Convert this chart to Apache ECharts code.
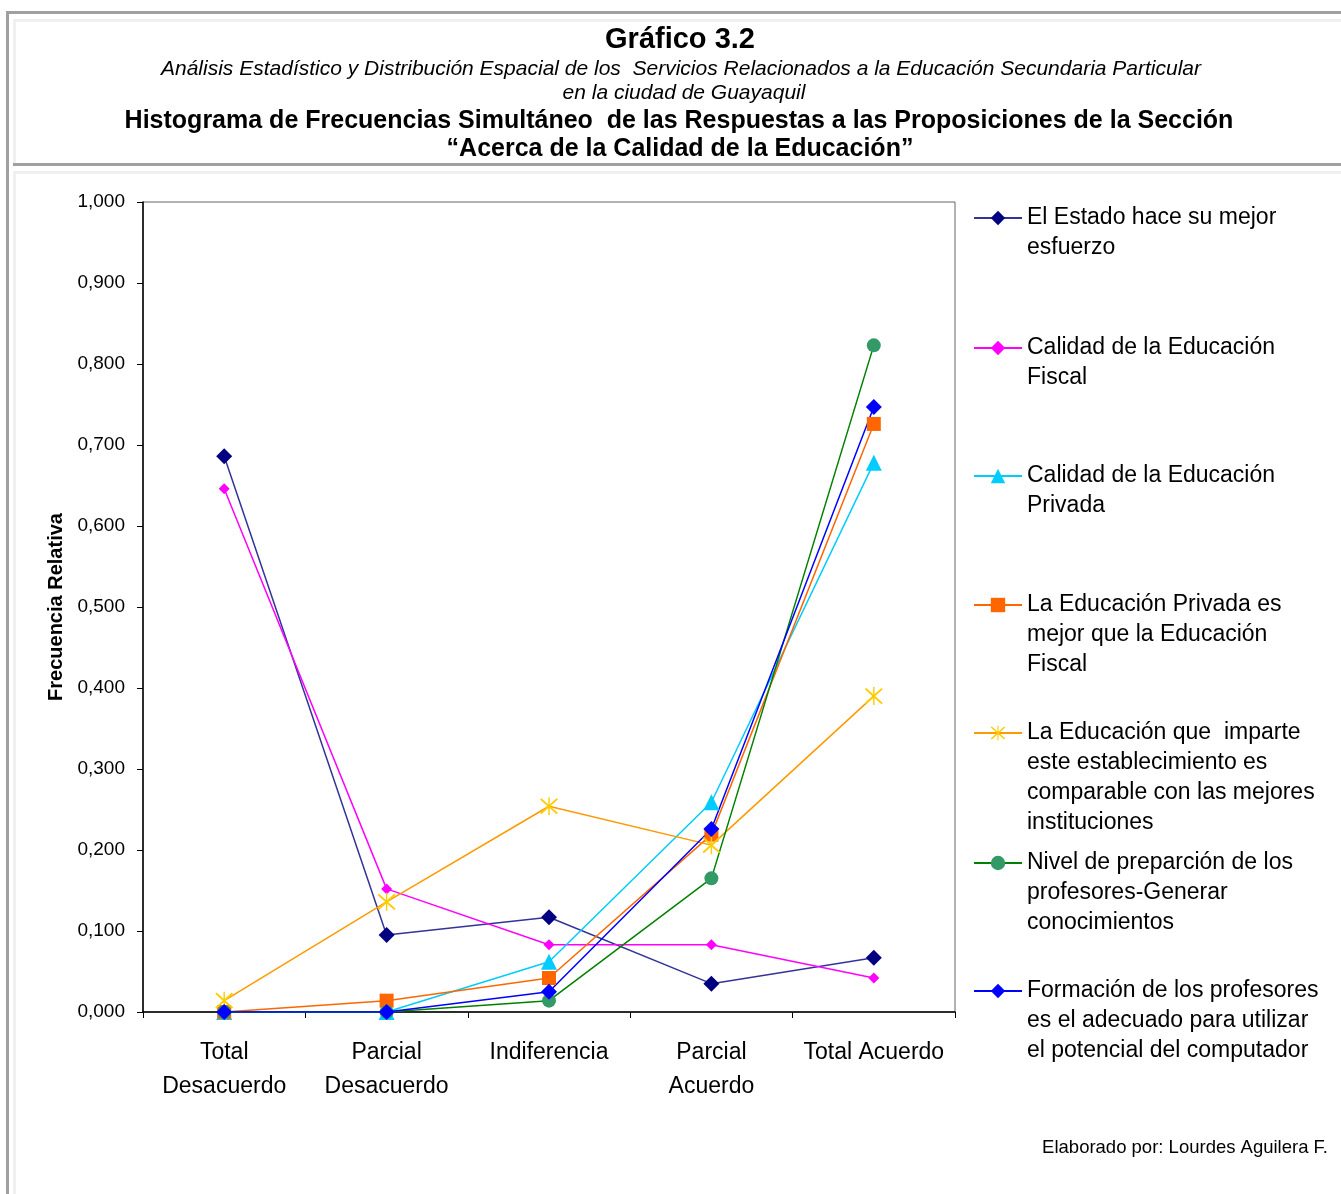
<!DOCTYPE html>
<html>
<head>
<meta charset="utf-8">
<script src="https://cdn.jsdelivr.net/npm/echarts@6/dist/echarts.min.js"></script>
<style>
  html, body { margin: 0; padding: 0; background: #fff; }
  #chart { width: 1341px; height: 1194px; }
</style>
</head>
<body>
<div id="chart"></div>
<script>
// categorias del eje x
var categorias = ['Total\nDesacuerdo', 'Parcial\nDesacuerdo', 'Indiferencia', 'Parcial\nAcuerdo', 'Total Acuerdo'];

// nombres de las series (con saltos de linea como en la leyenda)
var nombres = [
    'El Estado hace su mejor\nesfuerzo',
    'Calidad de la Educación\nFiscal',
    'Calidad de la Educación\nPrivada',
    'La Educación Privada es\nmejor que la Educación\nFiscal',
    'La Educación que  imparte\neste establecimiento es\ncomparable con las mejores\ninstituciones',
    'Nivel de preparción de los\nprofesores-Generar\nconocimientos',
    'Formación de los profesores\nes el adecuado para utilizar\nel potencial del computador'
];

// frecuencias relativas
var estado      = [0.686, 0.095, 0.117, 0.035, 0.067];
var fiscal      = [0.646, 0.152, 0.083, 0.083, 0.042];
var privada     = [0.000, 0.000, 0.062, 0.259, 0.678];
var privMejor   = [0.000, 0.014, 0.042, 0.219, 0.726];
var comparable  = [0.014, 0.136, 0.254, 0.206, 0.390];
var preparacion = [0.000, 0.000, 0.014, 0.165, 0.823];
var formacion   = [0.000, 0.000, 0.025, 0.226, 0.747];

// centro (y) del icono de cada leyenda
var leyendaY = [218, 348, 476, 605, 733, 863, 991];

var fuente = '"Liberation Sans", Arial, sans-serif';
var asterisco = 'path://M9.3,0 L10.7,0 L10.7,20 L9.3,20 Z M1,2.4 L2.4,1 L19,17.6 L17.6,19 Z M17.6,1 L19,2.4 L2.4,19 L1,17.6 Z';

function serie(nombre, datos, colorLinea, colorMarca, simbolo, tam) {
    return {
        name: nombre,
        type: 'line',
        data: datos,
        symbol: simbolo,
        symbolSize: tam,
        lineStyle: { color: colorLinea, width: 1.5 },
        itemStyle: { color: colorMarca },
        emphasis: { disabled: true },
        animation: false
    };
}

var series = [
    serie(nombres[0], estado, '#333399', '#000080', 'diamond', 16),
    serie(nombres[1], fiscal, '#ff00ff', '#ff00ff', 'diamond', 11),
    serie(nombres[2], privada, '#00ccff', '#00ccff', 'triangle', 16),
    serie(nombres[3], privMejor, '#ff6600', '#ff6600', 'rect', 14),
    serie(nombres[4], comparable, '#ff9900', '#ffcc00', asterisco, 18),
    serie(nombres[5], preparacion, '#008000', '#339966', 'circle', 14),
    serie(nombres[6], formacion, '#0000ff', '#0000ff', 'diamond', 16)
];

// una leyenda por serie; se anteponen lineas vacias para que el icono
// quede a la altura de la primera linea del texto
var lh = 30;
var leyendas = [];
nombres.forEach(function (n, i) {
    var lineas = n.split('\n').length;
    leyendas.push({
        data: [n],
        left: 973,
        top: leyendaY[i] - (2 * lineas - 1) * lh / 2,
        orient: 'vertical',
        padding: 0,
        itemWidth: 48,
        itemHeight: 18,
        selectedMode: false,
        formatter: function (name) {
            return new Array(lineas).join('\n') + name;
        },
        textStyle: {
            fontFamily: fuente,
            fontSize: 23,
            lineHeight: lh,
            color: '#000'
        }
    });
});

var echart1 = echarts.init(document.getElementById('chart'));
var option = {
    backgroundColor: '#fff',
    animation: false,
    textStyle: { fontFamily: fuente },
    grid: {
        left: 143,
        top: 202,
        width: 812,
        height: 810,
        show: true,
        borderColor: '#666666',
        borderWidth: 1,
        containLabel: false
    },
    legend: leyendas,
    xAxis: {
        type: 'category',
        data: categorias,
        boundaryGap: true,
        axisLine: { lineStyle: { color: '#000', width: 1.5 } },
        axisTick: { show: true, length: 6, alignWithLabel: false, lineStyle: { color: '#000' } },
        axisLabel: {
            interval: 0,
            margin: 24,
            fontSize: 23,
            lineHeight: 34,
            color: '#000',
            fontFamily: fuente
        },
        splitLine: { show: false }
    },
    yAxis: {
        type: 'value',
        min: 0,
        max: 1,
        interval: 0.1,
        name: 'Frecuencia Relativa',
        nameLocation: 'middle',
        nameRotate: 90,
        nameGap: 71,
        nameTextStyle: { fontSize: 20, fontWeight: 'bold', color: '#000', fontFamily: fuente },
        axisLine: { show: true, lineStyle: { color: '#000', width: 1.5 } },
        axisTick: { show: true, length: 6, lineStyle: { color: '#000' } },
        axisLabel: {
            margin: 18,
            fontSize: 19,
            color: '#000',
            fontFamily: fuente,
            formatter: function (v) { return v.toFixed(3).replace('.', ','); }
        },
        splitLine: { show: false }
    },
    graphic: [
        // marcos
        { type: 'rect', shape: { x: 6, y: 11, width: 1335, height: 3 }, style: { fill: '#a0a0a0' }, silent: true },
        { type: 'rect', shape: { x: 6, y: 11, width: 3, height: 1183 }, style: { fill: '#a0a0a0' }, silent: true },
        { type: 'rect', shape: { x: 13, y: 19, width: 1328, height: 3 }, style: { fill: '#f0f0f0' }, silent: true },
        { type: 'rect', shape: { x: 13, y: 19, width: 3, height: 144 }, style: { fill: '#f0f0f0' }, silent: true },
        { type: 'rect', shape: { x: 13, y: 163, width: 1328, height: 3 }, style: { fill: '#a0a0a0' }, silent: true },
        { type: 'rect', shape: { x: 13, y: 171, width: 1328, height: 3 }, style: { fill: '#f0f0f0' }, silent: true },
        { type: 'rect', shape: { x: 13, y: 171, width: 3, height: 1023 }, style: { fill: '#f0f0f0' }, silent: true },
        // titulos
        { type: 'text', x: 680, y: 40, style: { text: 'Gráfico 3.2', font: 'bold 29px ' + fuente, fill: '#000', textAlign: 'center', textVerticalAlign: 'middle' } },
        { type: 'text', x: 681, y: 69, style: { text: 'Análisis Estadístico y Distribución Espacial de los  Servicios Relacionados a la Educación Secundaria Particular', font: 'italic 21px ' + fuente, fill: '#000', textAlign: 'center', textVerticalAlign: 'middle' } },
        { type: 'text', x: 684, y: 93, style: { text: 'en la ciudad de Guayaquil', font: 'italic 21px ' + fuente, fill: '#000', textAlign: 'center', textVerticalAlign: 'middle' } },
        { type: 'text', x: 679, y: 121, style: { text: 'Histograma de Frecuencias Simultáneo  de las Respuestas a las Proposiciones de la Sección', font: 'bold 25px ' + fuente, fill: '#000', textAlign: 'center', textVerticalAlign: 'middle' } },
        { type: 'text', x: 680, y: 149, style: { text: '“Acerca de la Calidad de la Educación”', font: 'bold 25px ' + fuente, fill: '#000', textAlign: 'center', textVerticalAlign: 'middle' } },
        { type: 'text', x: 1328, y: 1148, style: { text: 'Elaborado por: Lourdes Aguilera F.', font: '18.5px ' + fuente, fill: '#000', textAlign: 'right', textVerticalAlign: 'middle' } }
    ],
    series: series
};
echart1.setOption(option);
</script>
</body>
</html>
